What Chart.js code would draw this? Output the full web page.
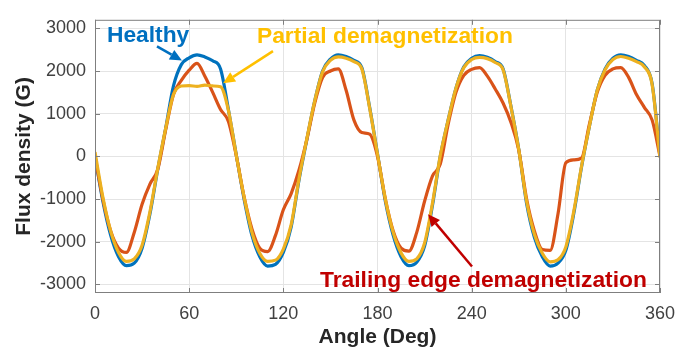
<!DOCTYPE html>
<html>
<head>
<meta charset="utf-8">
<title>Flux density vs angle</title>
<script src="https://cdn.jsdelivr.net/npm/chart.js"></script>
<style>
  html, body { margin: 0; padding: 0; background: #fff; }
  #flux-chart { display: block; }
</style>
</head>
<body>
<canvas id="flux-chart" width="696" height="354"></canvas>
<script>
// Data (angle in degrees, flux density in G)
const angles = [
    0, 5, 10, 15, 20, 25, 30, 35, 40, 45, 50, 55, 60, 65, 70, 75, 80, 85, 90,
    95, 100, 105, 110, 115, 120, 125, 130, 135, 140, 145, 150, 155, 160, 165, 170, 175, 180,
    185, 190, 195, 200, 205, 210, 215, 220, 225, 230, 235, 240, 245, 250, 255, 260, 265, 270,
    275, 280, 285, 290, 295, 300, 305, 310, 315, 320, 325, 330, 335, 340, 345, 350, 355, 360
];

const healthy = [
    0, -1050, -1850, -2350, -2560, -2500, -2150, -1350, -300, 650, 1650, 2150, 2310, 2380, 2330, 2240, 2050, 1100, 40,
    -1000, -1850, -2350, -2570, -2530, -2250, -1650, -550, 400, 1300, 2000, 2280, 2380, 2340, 2250, 2080, 1150, 60,
    -1050, -1850, -2350, -2560, -2480, -2100, -1150, 0, 850, 1600, 2100, 2300, 2360, 2320, 2220, 2050, 1180, 170,
    -1100, -1900, -2350, -2570, -2500, -2200, -1350, -250, 700, 1550, 2050, 2300, 2380, 2340, 2250, 2130, 1700, 0
];

const partialDemag = [
    100, -950, -1750, -2250, -2460, -2400, -2080, -1300, -280, 650, 1450, 1650, 1660, 1640, 1670, 1650, 1630, 1080, 30,
    -950, -1780, -2270, -2460, -2430, -2170, -1600, -520, 420, 1300, 1980, 2250, 2330, 2300, 2220, 2050, 1130, 50,
    -1000, -1780, -2260, -2460, -2400, -2030, -1100, 20, 850, 1600, 2080, 2270, 2320, 2290, 2200, 2030, 1170, 160,
    -1050, -1830, -2270, -2470, -2420, -2120, -1300, -230, 700, 1550, 2030, 2270, 2340, 2300, 2220, 2100, 1680, -30
];

const trailingDemag = [
    0, -1000, -1750, -2150, -2250, -1780, -1120, -650, -300, 620, 1450, 1780, 2020, 2180, 1880, 1500, 1100, 820, 20,
    -950, -1700, -2150, -2230, -1850, -1250, -870, -320, 400, 1250, 1850, 2000, 2050, 1550, 850, 560, 520, 0,
    -1000, -1750, -2150, -2220, -1780, -1050, -460, -180, 750, 1500, 1900, 2040, 2080, 1880, 1580, 1250, 800, 150,
    -1000, -1750, -2180, -2200, -1350, -150, -80, -40, 750, 1500, 1900, 2050, 2080, 1850, 1450, 1150, 850, 0
];

const yTickValues = [-3000, -2000, -1000, 0, 1000, 2000, 3000];

// Colors (MATLAB default order)
const BLUE = '#0072BD';
const ORANGE = '#D95319';
const YELLOW = '#EDB120';
const FONT = "'Liberation Sans', Arial, sans-serif";

// Labels with arrows, placed in data units
const notes = [
    { text: 'Healthy', color: '#0070C0', at: [7.6, 2680], from: [39.5, 2578], to: [55.4, 2244] },
    { text: 'Partial demagnetization', color: '#FFC000', at: [103.2, 2655], from: [113.4, 2466], to: [81.6, 1711] },
    { text: 'Trailing edge demagnetization', color: '#C00000', at: [143.4, -3060], from: [240.2, -2578], to: [212.2, -1355] }
];

function toPoints(values) {
    return values.map((v, i) => ({ x: angles[i], y: v }));
}

function drawArrow(ctx, x1, y1, x2, y2, color) {
    const ang = Math.atan2(y2 - y1, x2 - x1);
    const head = 12, half = 5.5;
    const c = Math.cos(ang), s = Math.sin(ang);
    ctx.strokeStyle = color;
    ctx.fillStyle = color;
    ctx.lineWidth = 2.5;
    ctx.beginPath();
    ctx.moveTo(x1, y1);
    ctx.lineTo(x2 - head * c, y2 - head * s);
    ctx.stroke();
    ctx.beginPath();
    ctx.moveTo(x2, y2);
    ctx.lineTo(x2 - head * c + half * s, y2 - head * s - half * c);
    ctx.lineTo(x2 - head * c - half * s, y2 - head * s + half * c);
    ctx.closePath();
    ctx.fill();
}

// Box around the axes with inward tick marks, like MATLAB "box on"
const boxPlugin = {
    id: 'box',
    afterDatasetsDraw(chart) {
        const { ctx, chartArea: a, scales: { x, y } } = chart;
        const tick = 5;
        ctx.save();
        ctx.strokeStyle = '#7f7f7f';
        ctx.lineWidth = 1;
        ctx.strokeRect(a.left + 0.5, a.top + 0.5, a.width - 1, a.height - 1);
        ctx.beginPath();
        x.ticks.forEach(t => {
            const px = Math.round(x.getPixelForValue(t.value)) + 0.5;
            ctx.moveTo(px, a.bottom); ctx.lineTo(px, a.bottom - tick);
            ctx.moveTo(px, a.top); ctx.lineTo(px, a.top + tick);
        });
        y.ticks.forEach(t => {
            const py = Math.round(y.getPixelForValue(t.value)) + 0.5;
            ctx.moveTo(a.left, py); ctx.lineTo(a.left + tick, py);
            ctx.moveTo(a.right, py); ctx.lineTo(a.right - tick, py);
        });
        ctx.stroke();
        ctx.restore();
    },
    afterDraw(chart) {
        const { ctx, scales: { x, y } } = chart;
        ctx.save();
        ctx.font = 'bold 22.8px ' + FONT;
        ctx.textBaseline = 'alphabetic';
        notes.forEach(n => {
            ctx.fillStyle = n.color;
            ctx.fillText(n.text, x.getPixelForValue(n.at[0]), y.getPixelForValue(n.at[1]));
            drawArrow(ctx,
                x.getPixelForValue(n.from[0]), y.getPixelForValue(n.from[1]),
                x.getPixelForValue(n.to[0]), y.getPixelForValue(n.to[1]),
                n.color);
        });
        ctx.restore();
    }
};

const fluxChart = new Chart(document.getElementById('flux-chart').getContext('2d'), {
    type: 'line',
    data: {
        datasets: [
            { label: 'Partial demagnetization', data: toPoints(partialDemag), borderColor: YELLOW, order: 0 },
            { label: 'Trailing edge demagnetization', data: toPoints(trailingDemag), borderColor: ORANGE, order: 1 },
            { label: 'Healthy', data: toPoints(healthy), borderColor: BLUE, order: 2 }
        ]
    },
    options: {
        responsive: false,
        animation: false,
        devicePixelRatio: 1,
        layout: { autoPadding: false, padding: { top: 5, right: 36, left: 0, bottom: 0 } },
        elements: {
            point: { radius: 0 },
            line: { borderWidth: 3.2, cubicInterpolationMode: 'monotone', fill: false }
        },
        plugins: { legend: { display: false }, tooltip: { enabled: false } },
        scales: {
            x: {
                type: 'linear',
                min: 0,
                max: 360,
                ticks: { stepSize: 60, color: '#404040', padding: 10, font: { family: FONT, size: 18 } },
                grid: { color: '#e4e4e4', drawTicks: false },
                border: { display: false },
                title: {
                    display: true, text: 'Angle (Deg)', color: '#262626',
                    font: { family: FONT, size: 21, weight: 'bold' }, padding: { top: 0, bottom: 4 }
                },
                afterFit: scale => { scale.height = 61; }
            },
            y: {
                min: -3200,
                max: 3200,
                afterBuildTicks: scale => { scale.ticks = yTickValues.map(v => ({ value: v })); },
                ticks: { color: '#404040', padding: 9, font: { family: FONT, size: 18 }, callback: v => String(v) },
                grid: { color: '#e4e4e4', drawTicks: false },
                border: { display: false },
                title: {
                    display: true, text: 'Flux density (G)', color: '#262626',
                    font: { family: FONT, size: 21, weight: 'bold' }, padding: { top: 12, bottom: 0 }
                },
                afterFit: scale => { scale.width = 95; }
            }
        }
    },
    plugins: [boxPlugin]
});
</script>
</body>
</html>
